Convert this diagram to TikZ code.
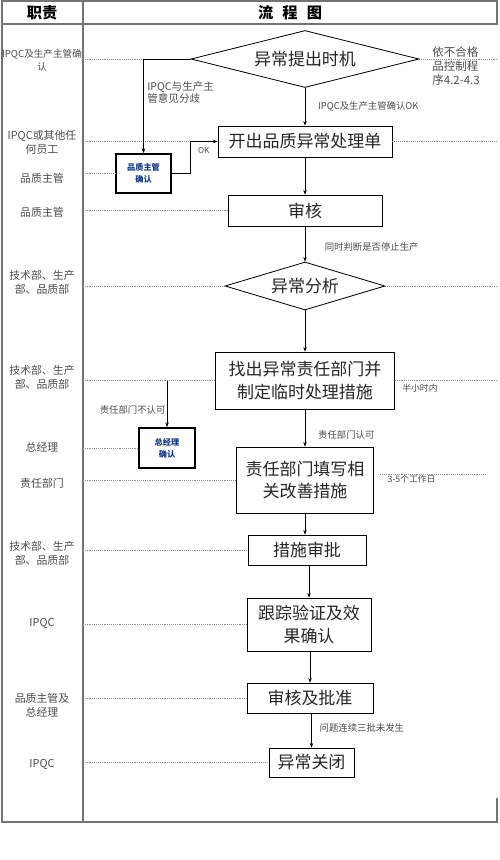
\documentclass[tikz,border=0pt]{standalone}
\usepackage{fontspec}
\setmainfont{Noto Sans CJK SC}
\usepackage{xcolor}
\usepackage{tikz}
\usetikzlibrary{arrows.meta, shapes.geometric}

\definecolor{qrblue}{RGB}{22,58,128}
\definecolor{lanegray}{RGB}{135,145,160}

\begin{document}
\begin{tikzpicture}[
        x=0.03cm, y=-0.03cm,
        box/.style={rectangle, draw, line width=0.7pt, align=center, inner sep=0pt, text=black!85, font=\fontsize{14.5}{19.5}\selectfont},
        decide/.style={diamond, draw, line width=0.7pt, inner sep=0pt, text=black!85, font=\fontsize{14.5}{19.5}\selectfont},
        confirm/.style={rectangle, draw, line width=1.5pt, align=center, inner sep=0pt, text=qrblue, font=\fontsize{7}{10}\selectfont\bfseries},
        role/.style={align=center, text=black!70, font=\fontsize{9.3}{12}\selectfont},
        note/.style={inner sep=1pt, text=black!70, font=\fontsize{8}{10}\selectfont},
        lane/.style={draw=lanegray, densely dotted, line width=0.6pt},
        frame/.style={draw=black!55, line width=0.9pt},
        flow/.style={line width=0.6pt, -{Stealth[length=4pt, width=3pt]}},
        every edge/.style={draw, flow}
    ]

    \useasboundingbox (0,0) rectangle (500,860);

    % table frame
    \coordinate (div) at (83,0);
    \coordinate (rim) at (497,0);
    \draw[frame] (2,1) rectangle (497,24);
    \draw[frame] (2,24) -- (2,822) -- (497,822) -- (497,798);
    \draw[frame] (83,1) -- (83,822);

    \node[font=\fontsize{13}{15}\selectfont\bfseries] (zhize) at (42,12.5) {职责};
    \node[font=\fontsize{13}{15}\selectfont\bfseries] (liucheng) at (290,12.5) {流\hspace{0.6em}程\hspace{0.6em}图};

    % roles
    \node[role, font=\fontsize{8.2}{11}\selectfont] (role1) at (42,60) {IPQC及生产主管确\\认};
    \node[role] (role2) at (42,142) {IPQC或其他任\\何员工};
    \node[role] (role3) at (42,178) {品质主管};
    \node[role] (role4) at (42,212) {品质主管};
    \node[role] (role5) at (42,282) {技术部、生产\\部、品质部};
    \node[role] (role6) at (42,377) {技术部、生产\\部、品质部};
    \node[role] (role7) at (42,447) {总经理};
    \node[role] (role8) at (42,483) {责任部门};
    \node[role] (role9) at (42,553) {技术部、生产\\部、品质部};
    \node[role] (role10) at (42,623) {IPQC};
    \node[role] (role11) at (42,705) {品质主管及\\总经理};
    \node[role] (role12) at (42,764) {IPQC};

    % flow
    \node[decide, aspect=4, minimum width=6.84cm, minimum height=1.71cm] (tichu) at (305,59) {异常提出时机};
    \node[box, minimum width=5.22cm, minimum height=0.93cm] (kaichu) at (305,141.5) {开出品质异常处理单};
    \node[confirm, minimum width=1.65cm, minimum height=1.17cm] (qa) at (143.5,173.5) {品质主管\\确认};
    \node[box, minimum width=4.62cm, minimum height=0.93cm] (shenhe) at (305,210.5) {审核};
    \node[decide, aspect=3.3, minimum width=4.8cm, minimum height=1.44cm] (fenxi) at (305,286) {异常分析};
    \node[box, minimum width=5.37cm, minimum height=1.71cm] (zhaochu) at (305,380.5) {找出异常责任部门并\\制定临时处理措施};
    \node[confirm, minimum width=1.68cm, minimum height=1.2cm] (zjl) at (167,448) {总经理\\确认};
    \node[box, minimum width=4.11cm, minimum height=1.98cm] (tianxie) at (305,480) {责任部门填写相\\关改善措施};
    \node[box, minimum width=3.54cm, minimum height=0.9cm] (shenpi) at (307,550) {措施审批};
    \node[box, minimum width=3.72cm, minimum height=1.59cm] (genzong) at (309,624.5) {跟踪验证及效\\果确认};
    \node[box, minimum width=3.78cm, minimum height=0.9cm] (pizhun) at (310,698) {审核及批准};
    \node[box, minimum width=2.55cm, minimum height=0.87cm] (guanbi) at (311.5,762.5) {异常关闭};

    \node[note, anchor=west, align=left, font=\fontsize{9}{11}\selectfont] (fenqi) at (146,92.5) {IPQC与生产主\\管意见分歧};
    \node[note, anchor=west, align=left, font=\fontsize{9.8}{12}\selectfont] (yiju) at (431,66.5) {依不合格\\品控制程\\序4.2-4.3};
    \node[note, anchor=west, font=\fontsize{7.5}{9}\selectfont] (banxiaoshi) at (401,388) {半小时内};

    % lanes
    \coordinate (gzl) at (380,474);
    \coordinate (gzr) at (485,474);
    \draw[lane] (tichu.west -| div) -- (tichu.west -| qa.north);
    \draw[lane] (tichu.east) -- (tichu.east -| rim);
    \draw[lane] (kaichu.west -| div) -- (kaichu.west);
    \draw[lane] (kaichu.east) -- (kaichu.east -| rim);
    \draw[lane] (qa.west -| div) -- (qa.west);
    \draw[lane] (shenhe.west -| div) -- (shenhe.west);
    \draw[lane] (fenxi.west -| div) -- (fenxi.west);
    \draw[lane] (fenxi.east) -- (fenxi.east -| rim);
    \draw[lane] (zhaochu.west -| div) -- (zhaochu.west);
    \draw[lane] (zhaochu.east) -- (zhaochu.east -| rim);
    \draw[lane] (zjl.west -| div) -- (zjl.west);
    \draw[lane] (tianxie.west -| div) -- (tianxie.west);
    \draw[lane] (gzl) -- node[note, below, pos=0.3, font=\fontsize{7.5}{9}\selectfont]{3-5个工作日} (gzr);
    \draw[lane] (shenpi.west -| div) -- (shenpi.west);
    \draw[lane] (genzong.west -| div) -- (genzong.west);
    \draw[lane] (pizhun.west -| div) -- (pizhun.west);
    \draw[lane] (guanbi.west -| div) -- (guanbi.west);

    % arrows
    \draw[flow] (tichu.west) -| (qa.north);
    \draw[flow] (qa.east) -- ++(18,0) |- node[note, pos=0.75, below=1.2mm, font=\fontsize{7}{9}\selectfont]{OK} (kaichu.west);
    \draw[flow] (zhaochu.west -| zjl.north) -- node[note, left, pos=0.64]{责任部门不认可} (zjl.north);

    \draw (tichu.south) edge node[note, right=3.5mm, pos=0.5]{IPQC及生产主管确认OK} (kaichu.north);
    \draw (kaichu.south) edge (shenhe.north);
    \draw (shenhe.south) edge node[note, right=5.5mm, pos=0.58]{同时判断是否停止生产} (fenxi.north);
    \draw (fenxi.south) edge (zhaochu.north);
    \draw (zhaochu.south) edge node[note, right=3.5mm, pos=0.68]{责任部门认可} (tianxie.north);
    \draw (tianxie.south) edge (tianxie.south |- shenpi.north);
    \draw (shenpi.south -| genzong.north) edge (genzong.north);
    \draw (genzong.south -| pizhun.north) edge (pizhun.north);
    \draw (pizhun.south -| guanbi.north) edge node[note, right=2mm, pos=0.43]{问题连续三批未发生} (guanbi.north);

    \end{tikzpicture}
\end{document}
